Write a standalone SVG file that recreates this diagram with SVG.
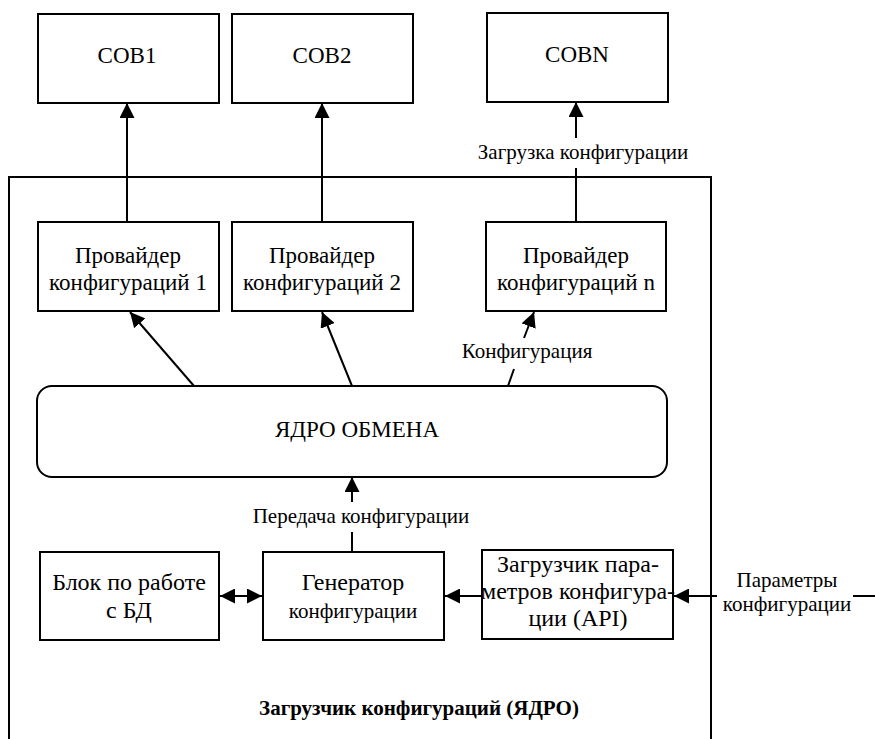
<svg xmlns="http://www.w3.org/2000/svg" width="875" height="739" viewBox="0 0 875 739" font-family="Liberation Serif, Tinos, Times New Roman, DejaVu Serif, serif">
<style>
text{font-family:Liberation Serif,Tinos,Times New Roman,DejaVu Serif,serif;fill:#000;text-anchor:middle}
.box{fill:#fff;stroke:#000;stroke-width:2}
.t{font-size:23px}
.m{font-size:24px}
.s{font-size:21px}
.l{font-size:21px}
.b{font-size:21px;font-weight:bold}
.c{stroke:#000;stroke-width:2;fill:none}
</style>
<defs>
<marker id="ah2" viewBox="0 0 10 10" refX="10" refY="5" markerWidth="15" markerHeight="15" markerUnits="userSpaceOnUse" orient="auto-start-reverse"><path d="M0,0 L10,5 L0,10 z" fill="#000"/></marker>
</defs>
<g id="frame"><rect x="9" y="177" width="702" height="580" fill="none" stroke="#000" stroke-width="2"/>
<text class="b" x="419" y="715">Загрузчик конфигураций (ЯДРО)</text></g>
<g id="cob1"><rect class="box" x="38" y="14" width="181" height="89"/><text class="t" x="127" y="63">COB1</text></g>
<g id="cob2"><rect class="box" x="232" y="14" width="181" height="89"/><text class="t" x="322" y="63">COB2</text></g>
<g id="cobn"><rect class="box" x="487" y="13" width="181" height="89"/><text class="t" x="577" y="62">COBN</text></g>
<g id="prov1"><rect class="box" x="38" y="222" width="181" height="89"/><text class="t" x="128" y="263">Провайдер</text><text class="t" x="128" y="290">конфигураций 1</text></g>
<g id="prov2"><rect class="box" x="232" y="222" width="181" height="89"/><text class="t" x="322" y="263">Провайдер</text><text class="t" x="322" y="290">конфигураций 2</text></g>
<g id="provn"><rect class="box" x="486" y="222" width="180" height="89"/><text class="t" x="576" y="263">Провайдер</text><text class="t" x="576" y="290">конфигураций n</text></g>
<g id="core"><rect class="box" x="37" y="386" width="630" height="91" rx="15" ry="15"/><text class="t" x="357" y="437">ЯДРО ОБМЕНА</text></g>
<g id="db"><rect class="box" x="40" y="552" width="179" height="88"/><text class="m" x="129" y="590">Блок по работе</text><text class="m" x="129" y="618">с БД</text></g>
<g id="gen"><rect class="box" x="263" y="552" width="181" height="88"/><text class="m" x="353" y="590">Генератор</text><text class="s" x="353" y="618">конфигурации</text></g>
<g id="loader"><rect class="box" x="482" y="550" width="191" height="89"/><text class="m" x="578" y="572">Загрузчик пара-</text><text class="m" x="578" y="599">метров конфигура-</text><text class="m" x="578" y="626">ции (API)</text></g>
<g id="connectors">
<line class="c" x1="127" y1="222" x2="127" y2="103" marker-end="url(#ah2)"/>
<line class="c" x1="322" y1="222" x2="322" y2="103" marker-end="url(#ah2)"/>
<line class="c" x1="576" y1="222" x2="576" y2="168"/>
<line class="c" x1="576" y1="138" x2="576" y2="102" marker-end="url(#ah2)"/>
<text class="l" x="583" y="159">Загрузка конфигурации</text>
<line class="c" x1="194" y1="386" x2="130" y2="312" marker-end="url(#ah2)"/>
<line class="c" x1="352" y1="386" x2="322" y2="312" marker-end="url(#ah2)"/>
<line class="c" x1="508" y1="386" x2="514" y2="369"/>
<line class="c" x1="524" y1="338" x2="534" y2="312" marker-end="url(#ah2)"/>
<text class="l" x="527" y="358">Конфигурация</text>
<line class="c" x1="352" y1="552" x2="352" y2="532"/>
<line class="c" x1="352" y1="502" x2="352" y2="477" marker-end="url(#ah2)"/>
<text class="l" x="361" y="523">Передача конфигурации</text>
<line class="c" x1="220" y1="596" x2="262" y2="596" marker-start="url(#ah2)" marker-end="url(#ah2)"/>
<line class="c" x1="482" y1="596" x2="445" y2="596" marker-end="url(#ah2)"/>
<line class="c" x1="875" y1="596" x2="853" y2="596"/>
<line class="c" x1="717" y1="596" x2="674" y2="596" marker-end="url(#ah2)"/>
<text class="l" x="787" y="587">Параметры</text>
<text class="l" x="787" y="611">конфигурации</text>
</g>
</svg>
